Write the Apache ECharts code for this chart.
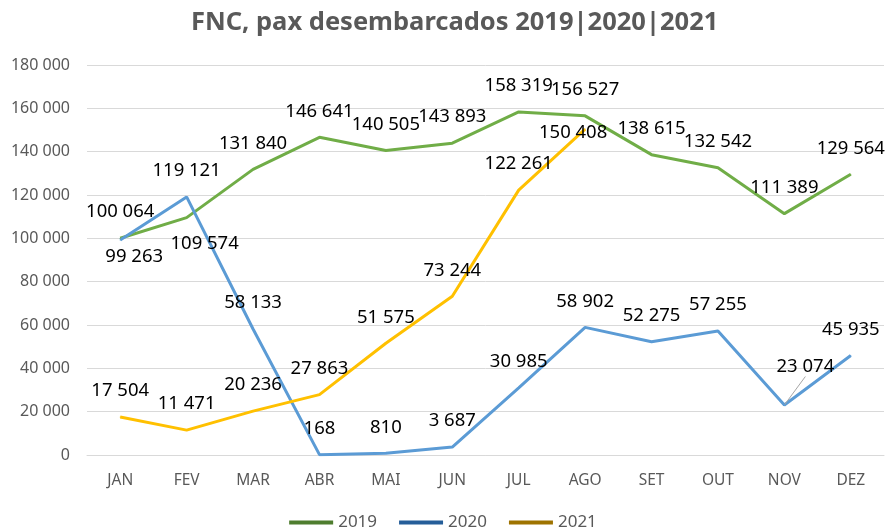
<!DOCTYPE html>
<html>
<head>
<meta charset="utf-8">
<script src="https://cdn.jsdelivr.net/npm/echarts@6/dist/echarts.min.js"></script>
<style>
  html, body { margin: 0; padding: 0; background: #fff; }
  #main { width: 886px; height: 531px; }
</style>
</head>
<body>
<div id="main"></div>
<script>
// months
const months = ['JAN', 'FEV', 'MAR', 'ABR', 'MAI', 'JUN', 'JUL', 'AGO', 'SET', 'OUT', 'NOV', 'DEZ'];

// passengers disembarked per year
const pax2019 = [100064, 109574, 131840, 146641, 140505, 143893, 158319, 156527, 138615, 132542, 111389, 129564];
const pax2020 = [99263, 119121, 58133, 168, 810, 3687, 30985, 58902, 52275, 57255, 23074, 45935];
const pax2021 = [17504, 11471, 20236, 27863, 51575, 73244, 122261, 150408];

const yTicks = [0, 20000, 40000, 60000, 80000, 100000, 120000, 140000, 160000, 180000];

const FONT = 'Noto Sans';

function fmt(v) {
  return String(v).replace(/\B(?=(\d{3})+(?!\d))/g, ' ');
}

// label nudges (pixels), by series / month index
function nudge(name, i) {
  if (name === '2019' && i === 1) return { dx: 18, dy: 52 };
  if (name === '2020' && i === 0) return { dx: 14, dy: 43 };
  if (name === '2021' && i === 7) return { dx: -12, dy: 30 };
  if (name === '2020' && i === 10) return { dx: 21, dy: -12 };
  return {};
}

function buildData(name, values) {
  return values.map(function (v, i) {
    let d = { value: v };
    if (name === '2020' && i === 10) {
      d.labelLine = { show: true, lineStyle: { color: '#A6A6A6', width: 1 } };
    }
    return d;
  });
}

function makeSeries(name, values, color) {
  return {
    name: name,
    type: 'line',
    data: buildData(name, values),
    symbol: 'circle',
    symbolSize: 1,
    showSymbol: true,
    itemStyle: { color: color },
    lineStyle: { color: color, width: 3 },
    emphasis: { disabled: true },
    label: {
      show: true,
      position: 'top',
      distance: 16,
      fontFamily: FONT,
      fontSize: 18.5,
      color: '#000',
      formatter: function (p) { return fmt(p.value); }
    },
    labelLayout: function (p) {
      return nudge(name, p.dataIndex);
    }
  };
}

var myChart = echarts.init(document.getElementById('main'), null, { renderer: 'canvas' });

var option = {
  animation: false,
  backgroundColor: '#fff',
  title: {
    text: 'FNC, pax desembarcados 2019|2020|2021',
    left: 186,
    top: 5,
    textStyle: { fontFamily: FONT, fontSize: 25.5, fontWeight: 'bold', color: '#595959' }
  },
  legend: {
    top: 509,
    left: 'center',
    icon: 'rect',
    itemWidth: 44,
    itemHeight: 4,
    itemGap: 22,
    textStyle: { fontFamily: FONT, fontSize: 17, color: '#595959' },
    data: [
      { name: '2019', itemStyle: { color: '#4E7D2F' } },
      { name: '2020', itemStyle: { color: '#255E99' } },
      { name: '2021', itemStyle: { color: '#9E7300' } }
    ]
  },
  grid: { left: 87, right: 2, top: 65, bottom: 76 },
  xAxis: {
    type: 'category',
    data: months,
    boundaryGap: true,
    axisLine: { show: true, lineStyle: { color: '#D9D9D9' } },
    axisTick: { show: false },
    axisLabel: { fontFamily: FONT, fontSize: 15.5, color: '#595959', margin: 18 }
  },
  yAxis: {
    type: 'value',
    min: yTicks[0],
    max: yTicks[yTicks.length - 1],
    interval: yTicks[1] - yTicks[0],
    axisLine: { show: false },
    axisTick: { show: false },
    splitLine: { lineStyle: { color: '#D9D9D9', width: 1 } },
    axisLabel: {
      fontFamily: FONT, fontSize: 16, color: '#595959', margin: 17,
      formatter: function (v) { return fmt(v); }
    }
  },
  series: [
    makeSeries('2019', pax2019, '#70AD47'),
    makeSeries('2020', pax2020, '#5B9BD5'),
    makeSeries('2021', pax2021, '#FFC000')
  ]
};

myChart.setOption(option);
</script>
</body>
</html>
